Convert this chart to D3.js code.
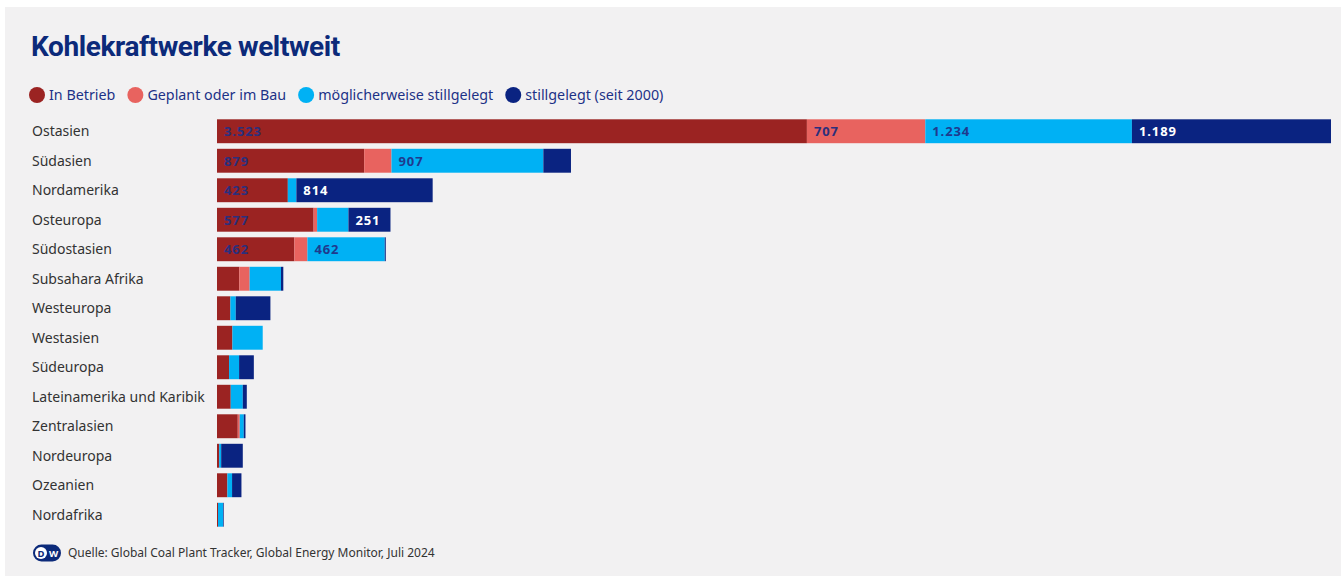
<!DOCTYPE html>
<html>
<head>
<meta charset="utf-8">
<script src="https://cdn.jsdelivr.net/npm/d3@7"></script>
<style>
    html, body { margin: 0; padding: 0; background: #ffffff; }
    svg { display: block; font-family: 'Noto Sans', sans-serif; }
</style>
</head>
<body>
<svg id="chart" width="1341" height="579"></svg>
<script>
const categories = ['Ostasien', 'Südasien', 'Nordamerika', 'Osteuropa', 'Südostasien',
    'Subsahara Afrika', 'Westeuropa', 'Westasien', 'Südeuropa',
    'Lateinamerika und Karibik', 'Zentralasien', 'Nordeuropa', 'Ozeanien', 'Nordafrika'];

const inBetrieb   = [3523, 879, 423, 577, 462, 133, 80, 92, 72, 82, 124, 13, 62, 6];
const geplant     = [707, 163, 0, 21, 78, 62, 0, 0, 0, 0, 12, 0, 0, 0];
const moeglich    = [1234, 907, 51, 187, 462, 187, 32, 181, 60, 72, 24, 12, 28, 30];
const stillgelegt = [1189, 165, 814, 251, 6, 14, 207, 0, 88, 24, 10, 129, 56, 4];

const seriesNames = ['In Betrieb', 'Geplant oder im Bau', 'möglicherweise stillgelegt', 'stillgelegt (seit 2000)'];
const seriesKeys = ['inBetrieb', 'geplant', 'moeglich', 'stillgelegt'];
const colors = ['#9b2322', '#e8635f', '#00b1f4', '#0a2381'];
const labelColors = ['#2b2f7c', '#2b2f7c', '#1f3a8e', '#ffffff'];

const de = d3.formatLocale({decimal: ',', thousands: '.', grouping: [3], currency: ['', ' €']});
const fmt = de.format(',');

const rows = categories.map((c, i) => ({
    name: c,
    inBetrieb: inBetrieb[i],
    geplant: geplant[i],
    moeglich: moeglich[i],
    stillgelegt: stillgelegt[i]
}));

const stack = d3.stack().keys(seriesKeys)(rows);

const svg = d3.select('#chart');

// panel
svg.append('rect')
    .attr('x', 5).attr('y', 7)
    .attr('width', 1336).attr('height', 569)
    .attr('fill', '#f2f1f2');

svg.append('text')
    .attr('x', 31).attr('y', 56)
    .attr('fill', '#0c2a7a')
    .attr('font-family', 'Roboto, sans-serif')
    .attr('font-weight', 700)
    .attr('font-size', 28)
    .attr('letter-spacing', -0.4)
    .text('Kohlekraftwerke weltweit');

// legend, laid out one after the other
const legend = svg.append('g');
let lx = 37;
seriesNames.forEach((n, i) => {
    legend.append('circle')
        .attr('cx', lx).attr('cy', 95).attr('r', 8)
        .attr('fill', colors[i]);
    const t = legend.append('text')
        .attr('x', lx + 12).attr('y', 100)
        .attr('fill', '#1d3187')
        .attr('font-size', 14.3)
        .text(n);
    lx = lx + 12 + t.node().getComputedTextLength() + 20;
});

const x = d3.scaleLinear()
    .domain([0, d3.max(rows, d => d.inBetrieb + d.geplant + d.moeglich + d.stillgelegt)])
    .range([217, 1331]);

const y = d3.scaleBand()
    .domain(categories)
    .range([116.5, 529.5])
    .paddingInner(0.19)
    .paddingOuter(0.095);

// category labels
svg.append('g').selectAll('text')
    .data(categories)
    .enter()
    .append('text')
    .attr('x', 32)
    .attr('y', d => y(d) + y.bandwidth() / 2 + 5)
    .attr('fill', '#333333')
    .attr('font-size', 14)
    .text(d => d);

// stacked bars
const layers = svg.append('g').selectAll('g')
    .data(stack)
    .enter()
    .append('g')
    .attr('fill', (d, i) => colors[i]);

layers.selectAll('rect')
    .data(d => d)
    .enter()
    .append('rect')
    .attr('x', d => x(d[0]))
    .attr('y', d => y(d.data.name))
    .attr('width', d => x(d[1]) - x(d[0]))
    .attr('height', y.bandwidth());

// value labels on wide segments
stack.forEach((layer, li) => {
    svg.append('g').selectAll('text')
        .data(layer.filter(d => d[1] - d[0] >= 250))
        .enter()
        .append('text')
        .attr('x', d => x(d[0]) + 7)
        .attr('y', d => y(d.data.name) + y.bandwidth() / 2 + 5)
        .attr('fill', labelColors[li])
        .attr('font-size', 13)
        .attr('font-weight', 700)
        .attr('letter-spacing', 0.9)
        .text(d => fmt(d[1] - d[0]));
});

// footer
const logo = svg.append('g').attr('transform', 'translate(47, 553)');
logo.append('rect')
    .attr('x', -14).attr('y', -8.5).attr('width', 28).attr('height', 17).attr('rx', 8.5)
    .attr('fill', '#0c2a7a');
logo.append('circle').attr('cx', -6).attr('cy', 0).attr('r', 6).attr('fill', '#ffffff');
logo.append('text')
    .attr('x', -6).attr('y', 3.5).attr('text-anchor', 'middle')
    .attr('font-size', 9.5).attr('font-weight', 700).attr('fill', '#0c2a7a')
    .text('D');
logo.append('text')
    .attr('x', 6.5).attr('y', 3.5).attr('text-anchor', 'middle')
    .attr('font-size', 9.5).attr('font-weight', 700).attr('fill', '#ffffff')
    .text('W');

svg.append('text')
    .attr('x', 68).attr('y', 557)
    .attr('fill', '#333333')
    .attr('font-size', 12)
    .text('Quelle: Global Coal Plant Tracker, Global Energy Monitor, Juli 2024');
</script>
</body>
</html>
